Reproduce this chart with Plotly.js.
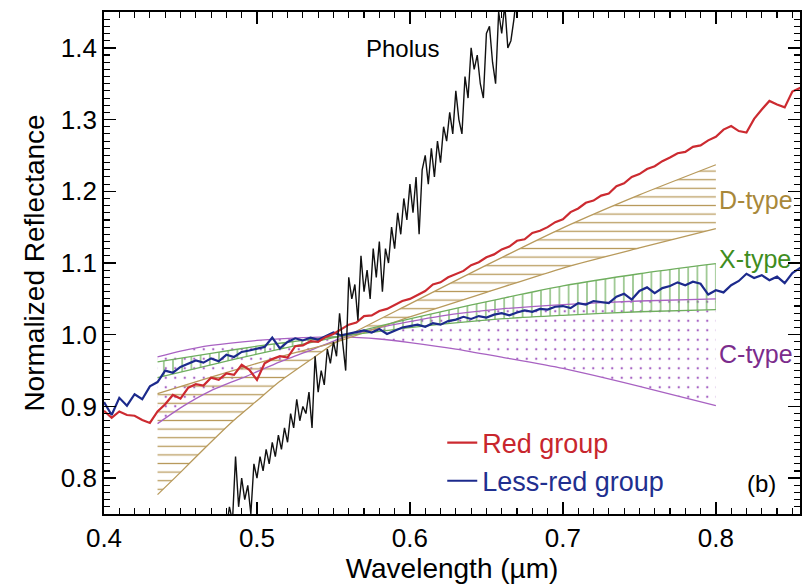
<!DOCTYPE html>
<html><head><meta charset="utf-8">
<script src="https://cdn.plot.ly/plotly-3.0.1.min.js"></script>
<style>html,body{margin:0;padding:0;background:#fff}#chart{width:807px;height:584px}</style>
</head><body><div id="chart"></div>
<script>
// ---- averaged group spectra (wavelength in µm, normalized reflectance) ----
const groupWl = [0.400,0.405,0.410,0.415,0.420,0.425,0.430,0.435,0.440,0.445,0.450,0.455,0.460,0.465,0.470,0.475,0.480,0.485,0.490,0.495,
0.500,0.505,0.510,0.515,0.520,0.525,0.530,0.535,0.540,0.545,0.550,0.555,0.560,0.565,0.570,0.575,0.580,0.585,0.590,0.595,
0.600,0.605,0.610,0.615,0.620,0.625,0.630,0.635,0.640,0.645,0.650,0.655,0.660,0.665,0.670,0.675,0.680,0.685,0.690,0.695,
0.700,0.705,0.710,0.715,0.720,0.725,0.730,0.735,0.740,0.745,0.750,0.755,0.760,0.765,0.770,0.775,0.780,0.785,0.790,0.795,
0.800,0.805,0.810,0.815,0.820,0.825,0.830,0.835,0.840,0.845,0.850,0.855,0.860];
const redGroup = [0.894,0.884,0.893,0.888,0.887,0.881,0.877,0.893,0.903,0.916,0.911,0.926,0.931,0.929,0.940,0.937,0.946,0.944,0.958,0.951,
0.937,0.960,0.966,0.970,0.968,0.984,0.985,0.991,0.990,0.997,1.001,1.008,1.014,1.017,1.026,1.027,1.033,1.036,1.041,1.047,
1.050,1.056,1.061,1.070,1.073,1.080,1.085,1.089,1.097,1.101,1.108,1.112,1.119,1.123,1.131,1.133,1.142,1.145,1.150,1.157,
1.161,1.171,1.176,1.184,1.187,1.194,1.197,1.207,1.211,1.220,1.224,1.231,1.235,1.242,1.247,1.253,1.255,1.262,1.264,1.271,
1.276,1.286,1.291,1.284,1.282,1.301,1.314,1.326,1.321,1.317,1.339,1.344,1.336];
const lessRedGroup = [0.906,0.888,0.912,0.901,0.917,0.910,0.928,0.934,0.950,0.947,0.955,0.959,0.964,0.961,0.967,0.963,0.972,0.969,0.976,0.978,
0.980,0.983,0.996,0.981,0.990,0.995,0.992,0.996,0.993,0.998,1.003,0.999,1.001,1.004,1.006,1.003,1.008,1.001,1.005,1.010,
1.012,1.014,1.011,1.016,1.014,1.019,1.021,1.025,1.022,1.026,1.024,1.028,1.030,1.027,1.031,1.034,1.032,1.036,1.035,1.039,
1.040,1.037,1.044,1.042,1.047,1.045,1.044,1.053,1.057,1.049,1.061,1.066,1.058,1.065,1.068,1.073,1.069,1.074,1.071,1.056,
1.062,1.059,1.069,1.075,1.085,1.079,1.083,1.076,1.081,1.072,1.086,1.093,1.088];

// ---- Pholus spectrum ----
const pholusWl = [0.478,0.480,0.482,0.484,0.486,0.488,0.490,0.492,0.494,0.496,0.498,0.500,0.502,0.504,0.506,0.508,0.510,0.512,0.514,0.516,
0.518,0.520,0.522,0.524,0.526,0.528,0.530,0.532,0.534,0.536,0.538,0.540,0.542,0.544,0.546,0.548,0.550,0.552,0.554,0.556,
0.558,0.560,0.562,0.564,0.566,0.568,0.570,0.572,0.574,0.576,0.578,0.580,0.582,0.584,0.586,0.588,0.590,0.592,0.594,0.596,
0.598,0.600,0.602,0.604,0.606,0.608,0.610,0.612,0.614,0.616,0.618,0.620,0.622,0.624,0.626,0.628,0.630,0.632,0.634,0.636,
0.638,0.640,0.642,0.644,0.646,0.648,0.650,0.652,0.654,0.656,0.658,0.660,0.662,0.664,0.666,0.668,0.670,0.672];
const pholusRefl = [0.69,0.73,0.76,0.74,0.83,0.76,0.80,0.77,0.79,0.75,0.82,0.80,0.83,0.81,0.84,0.82,0.85,0.83,0.86,0.84,
0.87,0.85,0.89,0.87,0.91,0.88,0.90,0.89,0.92,0.87,0.97,0.92,0.95,0.93,0.98,0.96,0.99,0.97,1.03,0.99,
0.95,1.08,1.05,1.07,1.02,1.11,1.06,1.09,1.05,1.12,1.08,1.13,1.06,1.12,1.10,1.15,1.12,1.17,1.14,1.19,
1.16,1.21,1.17,1.22,1.14,1.23,1.25,1.21,1.26,1.22,1.27,1.24,1.29,1.27,1.31,1.28,1.34,1.30,1.28,1.36,
1.33,1.40,1.37,1.39,1.35,1.33,1.42,1.43,1.38,1.35,1.45,1.42,1.46,1.40,1.41,1.44,1.48,1.50];

// ---- taxonomic-class envelopes ----
const dSteepWl = [0.435,0.450,0.465,0.484,0.500,0.515,0.537,0.552,0.600,0.650,0.700,0.750,0.800];
const dSteep   = [0.777,0.808,0.840,0.879,0.908,0.935,0.968,0.990,1.043,1.097,1.149,1.195,1.237];
const dFlatWl  = [0.435,0.470,0.500,0.525,0.552,0.600,0.650,0.700,0.750,0.800];
const dFlat    = [0.918,0.941,0.960,0.975,0.990,1.025,1.059,1.093,1.121,1.148];

const xSteepWl = [0.435,0.470,0.500,0.530,0.555,0.582,0.620,0.659,0.700,0.750,0.800];
const xSteep   = [0.940,0.958,0.973,0.987,0.998,1.013,1.032,1.050,1.068,1.085,1.099];
const xFlatWl  = [0.435,0.470,0.500,0.530,0.555,0.600,0.659,0.700,0.750,0.800];
const xFlat    = [0.962,0.974,0.984,0.992,0.998,1.010,1.022,1.027,1.032,1.035];

const cBlueWl  = [0.435,0.450,0.470,0.500,0.530,0.555,0.580,0.600,0.630,0.659,0.700,0.750,0.800];
const cBlue    = [0.969,0.977,0.985,0.992,0.996,0.997,0.994,0.989,0.980,0.969,0.953,0.928,0.901];
const cRedWl   = [0.435,0.450,0.470,0.493,0.515,0.537,0.555,0.580,0.620,0.660,0.700,0.750,0.800];
const cRed     = [0.876,0.898,0.922,0.942,0.962,0.980,0.995,1.010,1.026,1.036,1.042,1.047,1.050];

const FONT = 'Liberation Sans, Arial, Helvetica, sans-serif';
const TAN = '#b89a5c', GREEN = '#6fae5e', PURPLE = '#a862c2';

function envelope(wa, ya, wb, yb, color, shape, size, sol) {
  return {
    x: wa.concat(wb.slice().reverse()),
    y: ya.concat(yb.slice().reverse()),
    mode: 'lines', fill: 'toself', line: {width: 0, color: 'rgba(0,0,0,0)'},
    fillcolor: 'rgba(0,0,0,0)',
    fillpattern: {shape: shape, fgcolor: color, bgcolor: 'rgba(0,0,0,0)', size: size, solidity: sol, fillmode: 'replace'},
    showlegend: false, hoverinfo: 'skip'
  };
}
function edge(w, y, color) {
  return {x: w, y: y, mode: 'lines', line: {color: color, width: 1.3, shape: 'spline', smoothing: 0.6}, showlegend: false, hoverinfo: 'skip'};
}

const traces = [
  envelope(cBlueWl, cBlue, cRedWl, cRed, '#a865c4', '.', 9.5, 0.05),
  envelope(dSteepWl, dSteep, dFlatWl, dFlat, TAN, '-', 8.6, 0.15),
  envelope(xSteepWl, xSteep, xFlatWl, xFlat, GREEN, '|', 9.2, 0.13),
  edge(cBlueWl, cBlue, PURPLE), edge(cRedWl, cRed, PURPLE),
  edge(dSteepWl, dSteep, TAN), edge(dFlatWl, dFlat, TAN),
  edge(xSteepWl, xSteep, GREEN), edge(xFlatWl, xFlat, GREEN),
  {x: groupWl, y: lessRedGroup, mode: 'lines', name: '<span style="color:#1f2f8f">Less-red group</span>',
   line: {color: '#1c2a8c', width: 2.2}, legendrank: 2},
  {x: groupWl, y: redGroup, mode: 'lines', name: '<span style="color:#c8262d">Red group</span>',
   line: {color: '#cc2a30', width: 2.2}, legendrank: 1},
  {x: pholusWl, y: pholusRefl, mode: 'lines', line: {color: '#111', width: 1.4}, showlegend: false}
];

const axisCommon = {
  showline: true, linecolor: '#000', linewidth: 1.8, mirror: 'allticks',
  ticks: 'inside', ticklen: 12, tickwidth: 1.4, tickcolor: '#000',
  showgrid: false, zeroline: false, tickformat: '.1f',
  tickfont: {family: FONT, size: 26, color: '#000'},
  minor: {dtick: 0.01, ticks: 'inside', ticklen: 6, tickwidth: 1.1, tickcolor: '#000', showgrid: false}
};

const layout = {
  width: 807, height: 584,
  margin: {l: 104, r: 7, t: 12, b: 70},
  paper_bgcolor: '#fff', plot_bgcolor: '#fff',
  font: {family: FONT, size: 26, color: '#000'},
  xaxis: Object.assign({}, axisCommon, {range: [0.4, 0.855], tick0: 0.4, dtick: 0.1,
    title: {text: 'Wavelength (µm)', font: {family: FONT, size: 28}, standoff: 2}}),
  yaxis: Object.assign({}, axisCommon, {range: [0.75, 1.45], tick0: 0.8, dtick: 0.1,
    title: {text: 'Normalized Reflectance', font: {family: FONT, size: 28}, standoff: 8}}),
  showlegend: true,
  legend: {x: 0.486, y: 0.19, xanchor: 'left', yanchor: 'top', bgcolor: 'rgba(0,0,0,0)',
    borderwidth: 0, font: {family: FONT, size: 27}, tracegroupgap: 0, itemwidth: 30},
  annotations: [
    {x: 0.595, y: 1.399, xref: 'x', yref: 'y', text: 'Pholus', showarrow: false, font: {family: FONT, size: 24, color: '#000'}},
    {x: 0.801, y: 1.188, xref: 'x', yref: 'y', text: 'D-type', showarrow: false, xanchor: 'left', font: {family: FONT, size: 25, color: '#a8883a'}},
    {x: 0.801, y: 1.106, xref: 'x', yref: 'y', text: 'X-type', showarrow: false, xanchor: 'left', font: {family: FONT, size: 25, color: '#3f8d1e'}},
    {x: 0.801, y: 0.9735, xref: 'x', yref: 'y', text: 'C-type', showarrow: false, xanchor: 'left', font: {family: FONT, size: 25, color: '#7b2c8c'}},
    {x: 0.830, y: 0.792, xref: 'x', yref: 'y', text: '(b)', showarrow: false, font: {family: FONT, size: 24, color: '#000'}}
  ]
};

Plotly.newPlot('chart', traces, layout, {staticPlot: true, displayModeBar: false});
</script></body></html>
